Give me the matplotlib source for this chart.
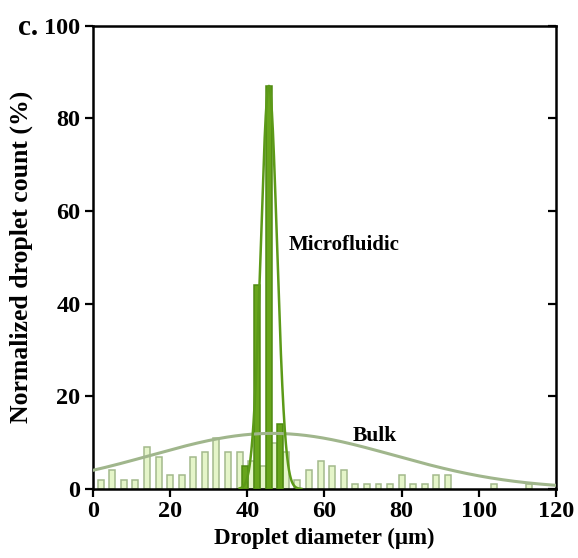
import numpy as np
import matplotlib
matplotlib.use("Agg")
import matplotlib.pyplot as plt

plt.rcParams["font.family"] = ["Liberation Serif", "DejaVu Serif"]
plt.rcParams["font.weight"] = "bold"

# Bulk emulsion: histogram bin centres (µm) and normalized counts (%)
bulk_x = [2, 5, 8, 11, 14, 17, 20, 23, 26, 29, 32, 35, 38, 41, 44, 47, 50,
          53, 56, 59, 62, 65, 68, 71, 74, 77, 80, 83, 86, 89, 92, 104, 113]
bulk_y = [2, 4, 2, 2, 9, 7, 3, 3, 7, 8, 11, 8, 8, 6, 5, 10, 8,
          2, 4, 6, 5, 4, 1, 1, 1, 1, 3, 1, 1, 3, 3, 1, 1]

# Microfluidic droplets: histogram bin centres (µm) and normalized counts (%)
micro_x = [39.5, 42.5, 45.5, 48.5]
micro_y = [5, 44, 87, 14]

# Gaussian fit parameters (amplitude, centre, width)
bulk_fit = (12.0, 46.5, 31.5)
micro_fit = (87.0, 45.6, 2.1)

xticks = [0, 20, 40, 60, 80, 100, 120]
yticks = [0, 20, 40, 60, 80, 100]


def gauss(x, a, mu, s):
    return a * np.exp(-(x - mu) ** 2 / (2 * s ** 2))


fig = plt.figure(figsize=(5.78, 5.58), dpi=100)
ax = fig.add_axes([0.1609, 0.1237, 0.8010, 0.8302])

bar_w = 1.55
ax.bar(bulk_x, bulk_y, width=bar_w, color="#e5f5c9", edgecolor="#a3b98c",
       linewidth=1.1, zorder=2)
ax.bar(micro_x, micro_y, width=bar_w, color="#68a51c", edgecolor="#4f8a12",
       linewidth=1.1, zorder=3)

xs = np.linspace(0, 120, 600)
ax.plot(xs, gauss(xs, *bulk_fit), color="#a0b68c", lw=2.2, zorder=4)
xm = np.linspace(38, 54, 400)
ax.plot(xm, gauss(xm, *micro_fit), color="#5c9a18", lw=1.8, zorder=5)

ax.set_xlim(0, 120)
ax.set_ylim(0, 100)
ax.set_xticks(xticks)
ax.set_yticks(yticks)
ax.tick_params(axis="both", which="major", labelsize=17.5, direction="out",
               length=6, width=1.6, pad=3)
ax.tick_params(axis="y", right=True, labelright=False)
for lab in ax.get_xticklabels() + ax.get_yticklabels():
    lab.set_fontweight("bold")
for sp in ax.spines.values():
    sp.set_linewidth(1.8)

# inward ticks on the right spine
for t in ax.yaxis.get_major_ticks():
    t.tick2line.set_marker(matplotlib.lines.TICKLEFT)

ax.set_xlabel("Droplet diameter (μm)", fontsize=16.5, fontweight="bold",
              labelpad=4)
ax.set_ylabel("Normalized droplet count (%)", fontsize=18.5, fontweight="bold",
              labelpad=8)

ax.text(65, 52.7, "Microfluidic", fontsize=15, fontweight="bold",
        ha="center", va="center")
ax.text(73, 11.5, "Bulk", fontsize=15.5, fontweight="bold",
        ha="center", va="center")
fig.text(0.048, 0.937, "c.", fontsize=21, fontweight="bold",
         ha="center", va="baseline")

fig.savefig("out.png", dpi=100)
